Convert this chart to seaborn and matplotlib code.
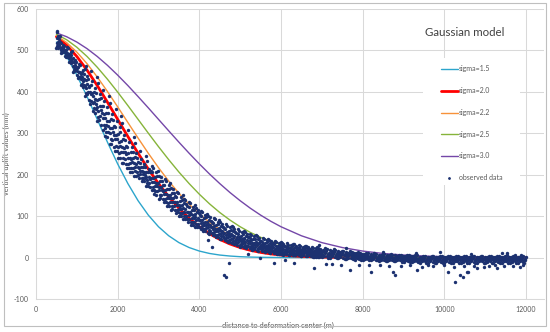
import numpy as np
import pandas as pd
import matplotlib
matplotlib.use("Agg")
import matplotlib.pyplot as plt
import seaborn as sns
from matplotlib.lines import Line2D
from matplotlib.patches import Rectangle

# ---------------- data ----------------
model_labels = ["sigma=1.5", "sigma=2.0", "sigma=2.2", "sigma=2.5", "sigma=3.0"]
model_colors = ["#2CA5CC", "#FF0000", "#F7923A", "#86B43A", "#7447A8"]
model_widths = [1.0, 2.0, 1.0, 1.0, 1.0]

curve_x = [500, 750, 1000, 1250, 1500, 1750, 2000, 2250, 2500, 2750, 3000, 3250,
           3500, 3750, 4000, 4250, 4500, 4750, 5000, 5250, 5500, 5750, 6000,
           6500, 7000, 7500, 8000, 8500, 9000, 9500, 10000, 10500, 11000, 11500, 12000]
curve_s15 = [520.2, 485.4, 440.4, 388.7, 333.6, 278.5, 226.1, 178.6, 137.2, 102.5, 74.4, 52.6,
             36.1, 24.2, 15.7, 9.9, 6.1, 3.7, 2.1, 1.2, 0.7, 0.4, 0.2,
             0.1, 0, 0, 0, 0, 0, 0, 0, 0, 0, 0, 0]
curve_s20 = [533.1, 512.7, 485.4, 452.4, 415.2, 375.0, 333.6, 292.1, 251.8, 213.7, 178.6, 146.9,
             119.0, 94.8, 74.4, 57.5, 43.8, 32.8, 24.2, 17.5, 12.5, 8.8, 6.1,
             2.8, 1.2, 0.5, 0.2, 0.1, 0, 0, 0, 0, 0, 0, 0]
curve_s22 = [536.0, 518.9, 496.0, 468.0, 435.9, 400.8, 363.8, 326.0, 288.4, 251.8, 217.0, 184.7,
             155.2, 128.7, 105.3, 85.1, 67.9, 53.5, 41.6, 31.9, 24.2, 18.1, 13.3,
             7.0, 3.5, 1.6, 0.7, 0.3, 0.1, 0, 0, 0, 0, 0, 0]
curve_s25 = [539.1, 525.8, 507.7, 485.4, 459.4, 430.5, 399.4, 366.9, 333.6, 300.3, 267.7, 236.3,
             206.4, 178.6, 152.9, 129.6, 108.8, 90.5, 74.4, 60.6, 48.9, 39.0, 30.9,
             18.7, 10.9, 6.1, 3.3, 1.7, 0.8, 0.4, 0.2, 0.1, 0, 0, 0]
curve_s30 = [542.4, 533.1, 520.2, 504.3, 485.4, 464.0, 440.4, 415.2, 388.6, 361.4, 333.6, 305.9,
             278.5, 251.8, 226.1, 201.6, 178.6, 157.0, 137.2, 119.0, 102.5, 87.6, 74.4,
             52.6, 36.1, 24.2, 15.7, 9.9, 6.1, 3.7, 2.1, 1.2, 0.7, 0.4, 0.2]

# observed data, near field: readings per 100 m strip (strip start + offset);
# the three offset sets are used on successive strips
obs_stations = [500, 600, 700, 800, 900, 1000, 1100, 1200, 1300, 1400, 1500, 1600, 1700,
                1800, 1900, 2000, 2100, 2200, 2300, 2400, 2500, 2600, 2700, 2800, 2900,
                3000, 3100, 3200, 3300, 3400, 3500, 3600, 3700, 3800, 3900, 4000, 4100,
                4200, 4300, 4400, 4500, 4600, 4700, 4800, 4900, 5000, 5100, 5200, 5300,
                5400, 5500, 5600, 5700, 5800, 5900, 6000, 6100, 6200, 6300, 6400, 6500,
                6600, 6700, 6800, 6900]
obs_offsets_a = [0, 50, 25, 75, 10, 60, 35, 85, 15, 65, 45, 90]
obs_offsets_b = [40, 5, 70, 30, 90, 20, 55, 0, 80, 35, 60, 15]
obs_offsets_c = [85, 30, 0, 55, 45, 95, 15, 65, 35, 5, 75, 50]
obs_rows = [
    [507, 505, 511, 508, 517, 514, 521, 520, 530, 527, 535, 536],
    [495, 494, 497, 497, 502, 500, 505, 504, 511, 509, 514, 518],
    [484, 483, 486, 486, 492, 490, 495, 494, 502, 500, 505, 509],
    [472, 469, 474, 471, 481, 477, 483, 480, 492, 489, 495, 499],
    [451, 449, 454, 452, 461, 460, 465, 463, 473, 471, 477, 481],
    [436, 433, 440, 436, 448, 444, 451, 448, 460, 458, 465, 467],
    [417, 411, 420, 417, 430, 426, 435, 431, 447, 444, 453, 456],
    [396, 391, 400, 397, 412, 409, 418, 414, 432, 429, 439, 462],
    [374, 370, 380, 378, 394, 390, 400, 398, 416, 414, 425, 450],
    [353, 349, 360, 358, 375, 371, 383, 380, 399, 398, 410, 436],
    [333, 329, 341, 339, 357, 354, 365, 364, 384, 383, 395, 421],
    [313, 309, 321, 320, 338, 336, 348, 346, 367, 367, 379, 405],
    [293, 290, 303, 302, 319, 317, 330, 329, 350, 350, 363, 390],
    [274, 273, 284, 285, 302, 301, 312, 313, 333, 334, 347, 374],
    [258, 257, 268, 269, 285, 285, 296, 297, 315, 317, 330, 358],
    [241, 241, 252, 254, 268, 269, 280, 282, 299, 302, 314, 342],
    [228, 228, 238, 240, 254, 255, 265, 266, 283, 286, 297, 325],
    [215, 215, 225, 227, 240, 241, 250, 252, 267, 269, 280, 308],
    [206, 206, 215, 217, 228, 230, 238, 241, 254, 256, 266, 292],
    [198, 198, 206, 208, 218, 219, 227, 229, 241, 243, 252, 276],
    [192, 192, 199, 201, 210, 210, 217, 218, 229, 231, 238, 258],
    [185, 185, 191, 191, 201, 200, 207, 207, 219, 219, 226, 244],
    [173, 172, 179, 179, 189, 188, 195, 195, 206, 207, 214, 232],
    [163, 162, 171, 171, 183, 183, 192, 192, 206, 208, 217, 220],
    [153, 152, 160, 160, 173, 172, 181, 181, 195, 196, 206, 209],
    [143, 142, 150, 151, 162, 162, 170, 171, 184, 185, 194, 198],
    [134, 133, 141, 142, 153, 153, 161, 162, 175, 176, 185, 189],
    [125, 124, 132, 133, 144, 144, 151, 152, 165, 166, 175, 179],
    [117, 116, 124, 124, 135, 135, 143, 143, 156, 157, 165, 169],
    [109, 108, 115, 116, 126, 126, 134, 134, 146, 148, 156, 159],
    [101, 100, 107, 108, 118, 118, 125, 126, 137, 139, 147, 150],
    [93, 93, 100, 101, 110, 111, 118, 119, 130, 131, 139, 142],
    [86, 86, 93, 94, 103, 104, 110, 111, 122, 124, 131, 134],
    [79, 79, 86, 87, 96, 96, 103, 104, 114, 116, 123, 127],
    [74, 74, 80, 81, 90, 90, 96, 97, 107, 109, 116, 119],
    [68, 68, 74, 76, 83, 84, 90, 91, 100, 102, 109, 112],
    [63, 64, 69, 71, 78, 79, 85, 86, 95, 97, 103, 106],
    [58, 59, 64, 66, 73, 74, 79, 81, 89, 91, 97, 101],
    [54, 55, 60, 61, 68, 69, 74, 76, 84, 86, 92, 95],
    [49, 50, 55, 57, 63, 64, 69, 71, 79, 81, 87, 90],
    [45, 46, 51, 52, 59, 60, 65, 67, 74, 76, 82, 86],
    [41, 42, 47, 48, 54, 56, 60, 62, 70, 72, 77, 81],
    [37, 38, 43, 44, 50, 51, 56, 58, 65, 67, 73, 76],
    [33, 34, 39, 41, 46, 48, 52, 54, 61, 64, 69, 73],
    [30, 31, 35, 37, 43, 44, 49, 50, 57, 59, 65, 68],
    [26, 27, 32, 34, 39, 41, 45, 47, 53, 56, 61, 65],
    [24, 25, 29, 31, 36, 38, 42, 44, 50, 53, 58, 61],
    [22, 23, 27, 29, 34, 35, 40, 42, 48, 50, 55, 58],
    [19, 20, 24, 26, 31, 32, 36, 38, 44, 46, 51, 54],
    [17, 18, 22, 24, 28, 30, 34, 36, 41, 44, 48, 52],
    [15, 16, 20, 22, 26, 27, 31, 33, 38, 41, 45, 48],
    [14, 15, 18, 20, 24, 26, 29, 31, 36, 38, 42, 45],
    [11, 13, 16, 18, 22, 23, 27, 29, 33, 35, 39, 42],
    [10, 12, 15, 17, 20, 22, 25, 27, 32, 34, 38, 41],
    [8, 9, 13, 14, 18, 19, 23, 24, 29, 31, 35, 38],
    [7, 8, 11, 13, 16, 18, 21, 23, 27, 29, 32, 35],
    [6, 8, 11, 13, 16, 17, 20, 22, 26, 28, 31, 35],
    [6, 8, 10, 12, 15, 16, 19, 21, 24, 27, 30, 33],
    [5, 7, 9, 11, 14, 15, 18, 20, 23, 26, 29, 32],
    [4, 5, 8, 10, 13, 14, 17, 18, 22, 24, 27, 30],
    [4, 5, 8, 10, 12, 14, 16, 18, 21, 23, 26, 29],
    [3, 4, 7, 9, 11, 13, 15, 17, 20, 22, 25, 28],
    [2, 3, 6, 7, 10, 11, 14, 15, 18, 20, 23, 26],
    [1, 2, 5, 6, 9, 10, 13, 14, 17, 19, 22, 25],
    [1, 2, 4, 6, 8, 9, 12, 13, 16, 18, 21, 23],
]

# observed data, far field
tail_stations = [7000, 7100, 7200, 7300, 7400, 7500, 7600, 7700, 7800, 7900,
                 8000, 8100, 8200, 8300, 8400, 8500, 8600, 8700, 8800, 8900,
                 9000, 9100, 9200, 9300, 9400, 9500, 9600, 9700, 9800, 9900,
                 10000, 10100, 10200, 10300, 10400, 10500, 10600, 10700, 10800, 10900,
                 11000, 11100, 11200, 11300, 11400, 11500, 11600, 11700, 11800, 11900]
tail_offsets_a = [0, 50, 25, 75, 12, 62, 37, 88]
tail_offsets_b = [60, 20, 85, 40, 70, 5, 95, 30]
tail_rows = [
    [1, 4, 7, 10, 13, 16, 19, 22], [0, 3, 6, 9, 12, 15, 18, 21],
    [-1, 3, 5, 8, 11, 14, 16, 20], [-1, 2, 5, 7, 10, 13, 15, 18],
    [-2, 1, 4, 6, 9, 11, 14, 17], [-3, 0, 3, 5, 8, 10, 13, 16],
    [-3, -1, 2, 5, 7, 9, 12, 15], [-4, -1, 2, 4, 6, 9, 11, 14],
    [-5, -2, 1, 3, 5, 8, 10, 13], [-5, -3, 0, 2, 5, 7, 9, 12],
    [-6, -3, -1, 2, 4, 6, 8, 11], [-6, -4, -1, 1, 3, 5, 8, 10],
    [-7, -4, -2, 1, 3, 5, 7, 10], [-7, -5, -2, 0, 2, 4, 7, 9],
    [-8, -5, -3, 0, 2, 4, 6, 9], [-8, -5, -3, -1, 1, 3, 5, 8],
    [-8, -6, -4, -1, 1, 3, 5, 8], [-9, -6, -4, -2, 0, 2, 5, 7],
    [-9, -7, -4, -2, 0, 2, 4, 7], [-10, -7, -5, -3, -1, 2, 4, 6],
    [-10, -7, -5, -3, -1, 1, 3, 6], [-10, -8, -6, -3, -1, 1, 3, 5],
    [-11, -8, -6, -4, -2, 0, 3, 5], [-11, -9, -6, -4, -2, 0, 2, 5],
    [-12, -9, -7, -5, -3, 0, 2, 4], [-12, -9, -7, -5, -3, -1, 1, 4],
    [-13, -9, -7, -4, -3, -1, 2, 4], [-12, -10, -7, -5, -2, -1, 1, 3],
    [-12, -9, -6, -5, -3, 0, 1, 4], [-13, -10, -7, -5, -3, -1, 2, 4],
    [-12, -9, -7, -4, -3, -1, 1, 3], [-12, -10, -7, -5, -2, -1, 1, 4],
    [-13, -9, -6, -5, -3, 0, 2, 4], [-12, -9, -7, -4, -3, -1, 1, 3],
    [-12, -10, -7, -5, -3, -1, 1, 4], [-13, -9, -7, -5, -2, 0, 2, 4],
    [-12, -9, -6, -4, -3, -1, 1, 3], [-12, -10, -7, -5, -3, -1, 1, 4],
    [-13, -9, -7, -5, -2, -1, 2, 4], [-12, -9, -6, -4, -3, 0, 1, 3],
    [-12, -10, -7, -5, -3, -1, 1, 4], [-13, -9, -7, -4, -2, -1, 2, 4],
    [-12, -9, -7, -5, -3, 0, 1, 3], [-12, -10, -6, -5, -3, -1, 1, 4],
    [-13, -9, -7, -4, -2, -1, 2, 4], [-12, -9, -7, -5, -3, 0, 1, 5],
    [-12, -10, -7, -5, -3, -1, 2, 4], [-13, -9, -6, -4, -2, -1, 1, 4],
    [-12, -9, -7, -5, -3, 0, 2, 5], [-12, -10, -7, -5, -3, -1, 1, 4],
]

# scattered outliers
sparse_x = [510, 525, 4210, 4300, 4610, 4660, 4730, 5200, 5480, 5820, 6320, 6800, 6930, 7700,
            8200, 8750, 8800, 9340, 9900, 10100, 10270, 10390, 10460, 10560, 10590,
            10800, 11290, 11530, 11730, 11850, 6100, 7100, 9600, 11100,
            7250, 7480, 7900, 8150, 8420, 8650, 8950, 9150, 9450, 9720, 9980, 10230,
            10480, 10720, 10980, 11240, 11470, 11690, 11920, 7600, 8500, 9300, 10650, 11400]
sparse_y = [545, 548, 42, 26, -41, -48, -12, 8, -2, -14, -12, -24, 31, -29,
            -34, -36, -41, -29, 14, -34, -58, -41, -46, -34, -36,
            -24, -24, 12, 7, -22, -6, -15, -18, -20,
            -16, -18, -17, -19, -18, -20, -21, -19, -22, -20, -19, -23,
            -21, -20, -22, -19, -21, -20, -18, 22, 14, 10, 9, 10]

x_ticks = [0, 2000, 4000, 6000, 8000, 10000, 12000]
y_ticks = [-100, 0, 100, 200, 300, 400, 500, 600]

# ---------------- tables ----------------
curve_vals = [curve_s15, curve_s20, curve_s22, curve_s25, curve_s30]
df_curves = pd.concat(
    [pd.DataFrame({"distance": curve_x, "uplift": v, "model": lab})
     for v, lab in zip(curve_vals, model_labels)], ignore_index=True)

ox, oy = [], []
near_sets = [obs_offsets_a, obs_offsets_b, obs_offsets_c]
for k, (st, row) in enumerate(zip(obs_stations, obs_rows)):
    for off, val in zip(near_sets[k % 3], row):
        ox.append(st + off)
        oy.append(val)
far_sets = [tail_offsets_a, tail_offsets_b]
for k, (st, row) in enumerate(zip(tail_stations, tail_rows)):
    for off, val in zip(far_sets[k % 2], row):
        ox.append(st + off)
        oy.append(val)
ox += sparse_x
oy += sparse_y
df_obs = pd.DataFrame({"distance": ox, "uplift": oy})

# ---------------- plot ----------------
sns.set_theme(style="white")
plt.rcParams['font.family'] = ['Lato', 'DejaVu Sans']

W, H = 550, 332
fig = plt.figure(figsize=(W / 100, H / 100), dpi=100)
ax = fig.add_axes([36 / W, 33 / H, 508 / W, 290 / H])

navy = "#1C3170"
for lab, col, lw in zip(model_labels, model_colors, model_widths):
    sns.lineplot(data=df_curves[df_curves["model"] == lab], x="distance", y="uplift",
                 color=col, linewidth=lw, ax=ax, legend=False, estimator=None,
                 sort=False, zorder=2)
sns.scatterplot(data=df_obs, x="distance", y="uplift", s=6, color=navy,
                linewidth=0, ax=ax, legend=False, zorder=3)

ax.set_xlim(0, 12440)
ax.set_ylim(-100, 600)
ax.set_xticks(x_ticks)
ax.set_yticks(y_ticks)
ax.set_xticklabels([str(t) for t in x_ticks])
ax.set_yticklabels([str(t) for t in y_ticks])
ax.grid(True, color="#D9D9D9", linewidth=0.75)
ax.set_axisbelow(True)
for side in ["top", "right"]:
    ax.spines[side].set_visible(False)
for side in ["left", "bottom"]:
    ax.spines[side].set_color("#D9D9D9")
    ax.spines[side].set_linewidth(0.75)
ax.tick_params(axis="both", length=0, labelsize=5, labelcolor="#595959")
ax.tick_params(axis="x", pad=5)
ax.tick_params(axis="y", pad=5)

ax.set_xlabel("distance to deformation center (m)", fontsize=5.3, color="#595959")
ax.set_ylabel("vertical uplift values (mm)", fontsize=5.3, color="#595959")
ax.xaxis.set_label_coords((278 - 36) / 508, (299 - 322) / 290)
ax.yaxis.set_label_coords((10.5 - 36) / 508, (299 - 154) / 290)

# white legend area
ax.add_patch(Rectangle((0.762, 0.393), 0.191, 0.438, transform=ax.transAxes,
                       facecolor="white", edgecolor="none", zorder=1))

handles = [Line2D([0], [0], color=c, lw=lw) for c, lw in zip(model_colors, model_widths)]
handles.append(Line2D([0], [0], color=navy, lw=0, marker="o", markersize=1.0))
labels = model_labels + ["observed data"]
ax.legend(handles=handles, labels=labels, loc="upper left",
          bbox_to_anchor=(441 / W, 1 - 65.5 / H), bbox_transform=fig.transFigure,
          frameon=False, fontsize=5, handlelength=2.4, handletextpad=0.15,
          labelspacing=2.12, borderpad=0, borderaxespad=0, labelcolor="#595959")

fig.text(465 / W, 1 - 33 / H, "Gaussian model", ha="center", va="center",
         fontsize=8.3, color="#404040")

fig.add_artist(Rectangle((4 / W, 6 / H), 542 / W, 323 / H, transform=fig.transFigure,
                         fill=False, edgecolor="#BFBFBF", linewidth=0.8))

fig.savefig("out.png", dpi=100)
